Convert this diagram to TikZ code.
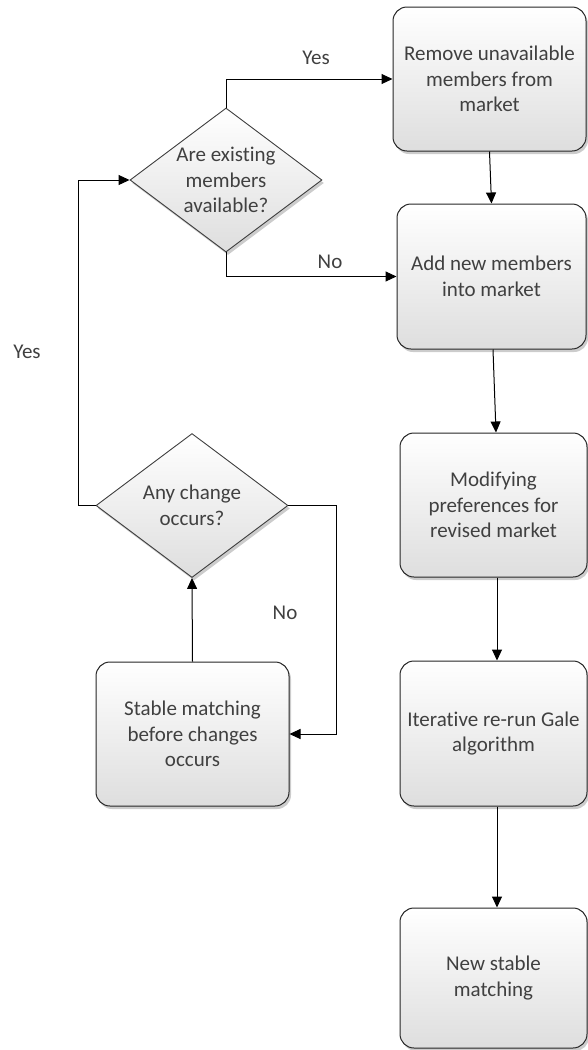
\documentclass[tikz,border=0pt]{standalone}
\usepackage{fontspec}
\setmainfont{Carlito}[Ligatures=NoCommon]
\usetikzlibrary{shapes.geometric,arrows.meta,shadows}
\definecolor{txt}{HTML}{404040}
\begin{document}
\begin{tikzpicture}[x=1pt,y=-1pt,
  every node/.style={font=\fontsize{21}{25.5}\selectfont, text=txt},
  shade/.style={top color=white, bottom color=black!13,
    drop shadow={shadow xshift=2pt, shadow yshift=-3pt, opacity=0.2, fill=black}},
  stepbox/.style={shade, draw=black!85, line width=1pt, rounded corners=14pt,
    align=center, inner sep=0pt},
  decision/.style={shade, draw=black!75, line width=0.9pt, shape=diamond,
    inner sep=0pt, minimum width=192pt, minimum height=144pt},
  arr/.style={draw=black, line width=1pt, -{Triangle[length=11pt,width=10pt]}},
  lbl/.style={inner sep=0pt}]
  \useasboundingbox (0,0) rectangle (587,1050);

  % process boxes
  \node[stepbox, minimum width=193pt, minimum height=144pt] (box1) at (489.5,79)
    {Remove unavailable\\members from\\market};
  \node[stepbox, minimum width=189pt, minimum height=145pt] (box2) at (491.5,276.5)
    {Add new members\\into market};
  \node[stepbox, minimum width=187pt, minimum height=144pt] (box3) at (493.5,505)
    {Modifying\\preferences for\\revised market};
  \node[stepbox, minimum width=187pt, minimum height=145pt] (box4) at (493.5,733.5)
    {Iterative re-run Gale\\algorithm};
  \node[stepbox, minimum width=187pt, minimum height=140pt] (box5) at (493.5,978)
    {New stable\\matching};
  \node[stepbox, minimum width=193pt, minimum height=144pt] (box6) at (192.5,734)
    {Stable matching\\before changes\\occurs};

  % decisions
  \node[decision, label={[align=center]center:Are existing\\members\\available?}] (dia1) at (226,180) {};
  \node[decision, label={[align=center]center:Any change\\occurs?}] (dia2) at (192,505.5) {};

  % bends of the loops
  \coordinate (yk) at (78,505.5);
  \coordinate (nk) at (336,505.5);

  % connectors
  \draw[arr] (dia1.north) |- (box1.west);
  \draw[arr] (dia1.south) |- (box2.west);
  \draw[arr] (box1.south) -- (box2.north);
  \draw[arr] ([xshift=1.5pt]box2.south) -- ([xshift=2.5pt]box3.north);
  \draw[arr] ([xshift=3.5pt]box3.south) -- ([xshift=3.5pt]box4.north);
  \draw[arr] ([xshift=3.5pt]box4.south) -- ([xshift=3.5pt]box5.north);
  \draw[arr] (box6.north) -- (dia2.south);
  \draw[arr] (dia2.east) -- (nk) |- (box6.east);
  \draw[arr] (dia2.west) -- (yk) |- (dia1.west);

  % branch labels
  \node[lbl] (ly1) at (316,58) {Yes};
  \node[lbl] (ln1) at (330,262) {No};
  \node[lbl] (ln2) at (285,613) {No};
  \node[lbl] (ly2) at (27,352) {Yes};
\end{tikzpicture}
\end{document}
